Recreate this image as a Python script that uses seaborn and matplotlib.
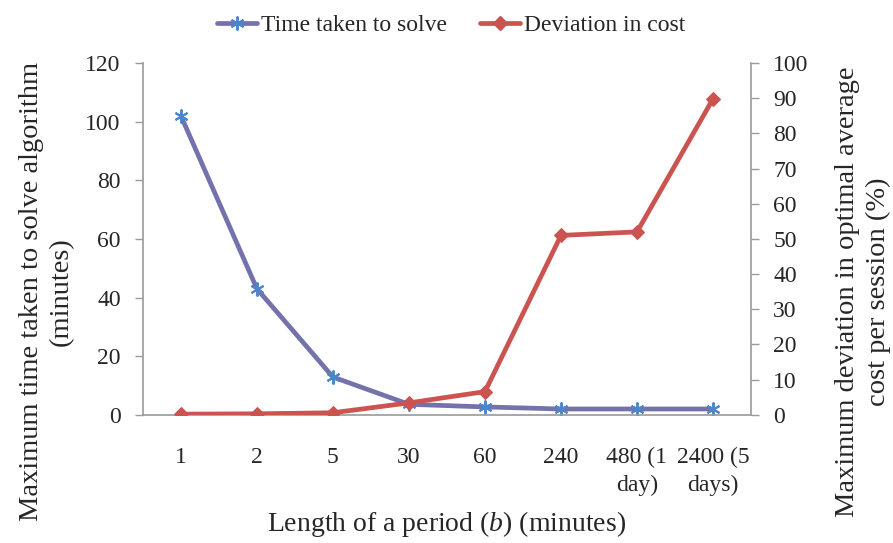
import numpy as np
import pandas as pd
import matplotlib
matplotlib.use("Agg")
import matplotlib.pyplot as plt
import seaborn as sns
from matplotlib.lines import Line2D

# Period lengths (categories) and the two measured series
periods = ["1", "2", "5", "30", "60", "240", "480 (1\nday)", "2400 (5\ndays)"]
time_taken = [102, 43, 12.9, 3.6, 2.7, 2.0, 2.0, 2.0]          # minutes
deviation = [0.2, 0.3, 0.6, 3.4, 6.6, 51, 52, 89.8]            # percent

left_ticks = [0, 20, 40, 60, 80, 100, 120]
right_ticks = list(range(0, 101, 10))

sns.set_theme(style="white")
plt.rcParams["font.family"] = ["Liberation Serif", "DejaVu Serif"]
plt.rcParams["mathtext.fontset"] = "custom"
plt.rcParams["mathtext.rm"] = "Liberation Serif"
plt.rcParams["mathtext.it"] = "Liberation Serif:italic"

df = pd.DataFrame({
    "pos": np.arange(len(periods)),
    "period": periods,
    "time": time_taken,
    "dev": deviation,
})

time_line = "#7472AA"
time_marker = "#4A86C8"
dev_color = "#CB5451"
spine_color = "#9A9A9A"

fig = plt.figure(figsize=(8.93, 5.43), dpi=100)
ax = fig.add_axes([0.160, 0.236, 0.681, 0.648])
ax2 = ax.twinx()

sns.lineplot(data=df, x="pos", y="time", ax=ax, color=time_line, lw=3.4,
             marker=(6, 2, 0), markersize=10, markeredgecolor=time_marker,
             markeredgewidth=1.4, markerfacecolor=time_marker, sort=False)
sns.lineplot(data=df, x="pos", y="dev", ax=ax2, color=dev_color, lw=3.4,
             marker="D", markersize=7, markeredgecolor=dev_color,
             markerfacecolor=dev_color, sort=False)

n = len(periods)
ax.set_xlim(-0.5, n - 0.5)
ax.set_ylim(0, 120)
ax2.set_ylim(0, 100)

ax.set_yticks(left_ticks)
ax2.set_yticks(right_ticks)
ax.set_xticks(np.arange(n))
ax.set_xticklabels(periods, fontsize=17, linespacing=1.45)
ax.set_xticks(np.arange(n + 1) - 0.5, minor=True)

ax.tick_params(axis="x", which="major", length=0, pad=23)
ax.tick_params(axis="x", which="minor", length=6, width=1, color=spine_color,
               direction="out")
ax.tick_params(axis="y", length=6, width=1, color=spine_color, direction="out",
               labelsize=17, left=True, pad=10)
ax2.tick_params(axis="y", length=6, width=1, color=spine_color, direction="out",
                labelsize=17, right=True, pad=10)

for a in (ax, ax2):
    for side in ("left", "right", "bottom"):
        a.spines[side].set_color(spine_color)
        a.spines[side].set_linewidth(1.2)
    a.spines["top"].set_visible(False)
ax2.spines["bottom"].set_visible(False)
ax2.spines["left"].set_visible(False)
ax.spines["right"].set_visible(False)

ax.set_xlabel("Length of a period ($\\mathit{b}$) (minutes)", fontsize=20,
              labelpad=9)
ax.set_ylabel("Maximum time taken to solve algorithm\n(minutes)", fontsize=20.5,
              labelpad=8, linespacing=1.25)
ax2.set_ylabel("Maximum deviation in optimal average\ncost per session (%)",
               fontsize=20.5, rotation=90, labelpad=19, linespacing=1.3)
ax2.yaxis.set_label_position("right")
# both axis titles sit a little below the middle of the plot area
ax.yaxis.label.set_y(0.35)
ax2.yaxis.label.set_y(0.35)

ax.grid(False)
ax2.grid(False)

handles = [
    Line2D([], [], color=time_line, lw=3.4, marker=(6, 2, 0), markersize=10,
           markeredgecolor=time_marker, markeredgewidth=1.4),
    Line2D([], [], color=dev_color, lw=3.4, marker="D", markersize=7,
           markeredgecolor=dev_color, markerfacecolor=dev_color),
]
fig.legend(handles, ["Time taken to solve", "Deviation in cost"],
           loc="upper center", bbox_to_anchor=(0.505, 1.012), ncol=2,
           frameon=False, fontsize=17, handlelength=1.7, handletextpad=0.15,
           columnspacing=1.4)

fig.savefig("out.png", dpi=100)
